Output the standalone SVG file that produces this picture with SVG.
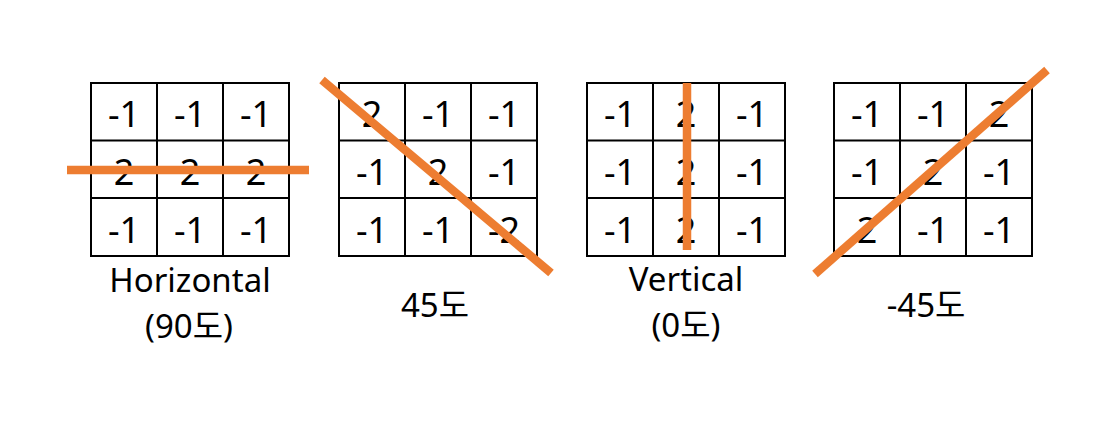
<svg xmlns="http://www.w3.org/2000/svg" width="1118" height="428" viewBox="0 0 1118 428">
<style>
.g{fill:none;stroke:#000;stroke-width:2}
.c{font-family:"Noto Sans","Noto Sans CJK KR",sans-serif;font-size:36px;fill:#000;text-anchor:middle}
.l{font-family:"Noto Sans","Noto Sans CJK KR",sans-serif;font-size:33px;fill:#000;text-anchor:middle}
.o{stroke:#ED7D31;stroke-width:8.5;fill:none}
</style>
<rect width="1118" height="428" fill="#fff"/>
<defs>
<g id="grid">
<rect class="g" x="0" y="0" width="198" height="173"/>
<line class="g" x1="66" y1="0" x2="66" y2="173"/>
<line class="g" x1="132" y1="0" x2="132" y2="173"/>
<line class="g" x1="0" y1="57.5" x2="198" y2="57.5"/>
<line class="g" x1="0" y1="115" x2="198" y2="115"/>
</g>
</defs>
<g id="node-horizontal">
<use href="#grid" x="91" y="83"/>
<text class="c" x="124" y="127">-1</text><text class="c" x="190" y="127">-1</text><text class="c" x="256" y="127">-1</text>
<text class="c" x="124" y="185">2</text><text class="c" x="190" y="185">2</text><text class="c" x="256" y="185">2</text>
<text class="c" x="124" y="243">-1</text><text class="c" x="190" y="243">-1</text><text class="c" x="256" y="243">-1</text>
<text class="l" x="190" y="292">Horizontal</text>
<text class="l" x="189" y="338">(90도)</text>
</g>
<g id="node-45">
<use href="#grid" x="339" y="83"/>
<text class="c" x="372" y="127">2</text><text class="c" x="438" y="127">-1</text><text class="c" x="504" y="127">-1</text>
<text class="c" x="372" y="185">-1</text><text class="c" x="438" y="185">2</text><text class="c" x="504" y="185">-1</text>
<text class="c" x="372" y="243">-1</text><text class="c" x="438" y="243">-1</text><text class="c" x="504" y="243">-2</text>
<text class="l" x="435" y="317">45도</text>
</g>
<g id="node-vertical">
<use href="#grid" x="587" y="83"/>
<text class="c" x="620" y="127">-1</text><text class="c" x="686" y="127">2</text><text class="c" x="752" y="127">-1</text>
<text class="c" x="620" y="185">-1</text><text class="c" x="686" y="185">2</text><text class="c" x="752" y="185">-1</text>
<text class="c" x="620" y="243">-1</text><text class="c" x="686" y="243">2</text><text class="c" x="752" y="243">-1</text>
<text class="l" x="686" y="291">Vertical</text>
<text class="l" x="686" y="337">(0도)</text>
</g>
<g id="node-minus45">
<use href="#grid" x="834" y="83"/>
<text class="c" x="867" y="127">-1</text><text class="c" x="933" y="127">-1</text><text class="c" x="999" y="127">2</text>
<text class="c" x="867" y="185">-1</text><text class="c" x="933" y="185">2</text><text class="c" x="999" y="185">-1</text>
<text class="c" x="867" y="243">2</text><text class="c" x="933" y="243">-1</text><text class="c" x="999" y="243">-1</text>
<text class="l" x="926" y="317">-45도</text>
</g>
<g id="connectors">
<line class="o" x1="67" y1="170" x2="309" y2="170"/>
<line class="o" x1="322" y1="80" x2="551" y2="273"/>
<line class="o" x1="687" y1="83" x2="687" y2="250"/>
<line class="o" x1="815" y1="274" x2="1047" y2="70"/>
</g>
</svg>
